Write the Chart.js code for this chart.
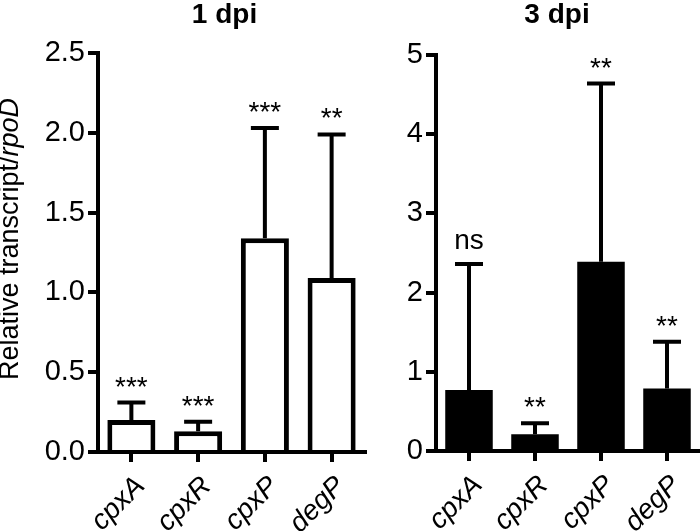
<!DOCTYPE html>
<html>
<head>
<meta charset="utf-8">
<script src="https://cdn.jsdelivr.net/npm/chart.js@4.4.1/dist/chart.umd.min.js"></script>
<style>
  html, body { margin: 0; padding: 0; background: #fff; }
  #wrap { position: relative; width: 700px; height: 531px; overflow: hidden; }
  canvas { position: absolute; top: 0; }
</style>
</head>
<body>
<div id="wrap">
  <canvas id="chart1dpi" width="370" height="531" style="left:0"></canvas>
  <canvas id="chart3dpi" width="330" height="531" style="left:370px"></canvas>
</div>
<script>
var genes = ['cpxA', 'cpxR', 'cpxP', 'degP'];

var mean1dpi = [0.20, 0.13, 1.34, 1.09];
var sd1dpi = [0.11, 0.06, 0.69, 0.90];
var sig1dpi = ['***', '***', '***', '**'];

var mean3dpi = [0.77, 0.21, 2.39, 0.79];
var sd3dpi = [1.59, 0.14, 2.25, 0.59];
var sig3dpi = ['ns', '**', '**', '**'];

var FONT = "'Liberation Sans', Arial, Helvetica, sans-serif";

// error bars (upper only) + significance labels
var errorBarPlugin = {
    id: 'errorBars',
    afterDatasetsDraw: function(chart, args, opts) {
        var ctx = chart.ctx;
        var meta = chart.getDatasetMeta(0);
        var yScale = chart.scales.y;
        ctx.save();
        ctx.strokeStyle = '#000';
        ctx.fillStyle = '#000';
        ctx.lineWidth = 4;
        meta.data.forEach(function(bar, i) {
            var mean = opts.means[i];
            var top = yScale.getPixelForValue(mean + opts.sd[i]);
            var barTop = yScale.getPixelForValue(mean);
            ctx.beginPath();
            ctx.moveTo(bar.x, barTop);
            ctx.lineTo(bar.x, top);
            ctx.moveTo(bar.x - 14, top);
            ctx.lineTo(bar.x + 14, top);
            ctx.stroke();
            var s = opts.labels[i];
            ctx.font = '28px ' + FONT;
            ctx.textAlign = 'center';
            ctx.textBaseline = 'alphabetic';
            var off = /^\*+$/.test(s) ? 7 : 15;
            ctx.fillText(s, bar.x, top - off);
        });
        ctx.restore();
    }
};

// panel title
var panelTitlePlugin = {
    id: 'panelTitle',
    afterDraw: function(chart, args, opts) {
        var ctx = chart.ctx;
        ctx.save();
        ctx.font = 'bold 28px ' + FONT;
        ctx.fillStyle = '#000';
        ctx.textAlign = 'center';
        ctx.textBaseline = 'alphabetic';
        var ca = chart.chartArea;
        ctx.fillText(opts.text, (ca.left + ca.right) / 2 + opts.dx, 23);
        ctx.restore();
    }
};

// y axis title with italic gene name
var yTitlePlugin = {
    id: 'yTitle',
    afterDraw: function(chart, args, opts) {
        if (!opts.show) return;
        var ctx = chart.ctx;
        var plain = 'Relative transcript/';
        var ital = 'rpoD';
        ctx.save();
        ctx.fillStyle = '#000';
        ctx.textBaseline = 'alphabetic';
        ctx.textAlign = 'left';
        ctx.font = '27px ' + FONT;
        var w1 = ctx.measureText(plain).width;
        ctx.font = 'italic 27px ' + FONT;
        var w2 = ctx.measureText(ital).width;
        var total = w1 + w2;
        ctx.translate(18, 239);
        ctx.rotate(-Math.PI / 2);
        ctx.font = '27px ' + FONT;
        ctx.fillText(plain, -total / 2, 0);
        ctx.font = 'italic 27px ' + FONT;
        ctx.fillText(ital, -total / 2 + w1, 0);
        ctx.restore();
    }
};

function makeChart(id, means, sd, sig, fill, border, yMax, step, yWidth, padTop, padRight, xHeight, title, titleDx, showYTitle) {
    return new Chart(document.getElementById(id), {
        type: 'bar',
        data: {
            labels: genes,
            datasets: [{
                data: means,
                backgroundColor: fill,
                borderColor: '#000',
                borderWidth: border,
                borderSkipped: 'bottom',
                barPercentage: 0.72,
                categoryPercentage: 1.0
            }]
        },
        options: {
            responsive: false,
            animation: false,
            events: [],
            layout: { padding: { top: padTop, right: padRight, left: 0, bottom: 0 } },
            plugins: {
                legend: { display: false },
                tooltip: { enabled: false },
                errorBars: { means: means, sd: sd, labels: sig },
                panelTitle: { text: title, dx: titleDx },
                yTitle: { show: showYTitle }
            },
            scales: {
                x: {
                    afterFit: function(scale) { scale.height = xHeight; },
                    grid: { drawOnChartArea: false, drawTicks: true, tickLength: 10, lineWidth: 4, color: '#000', offset: false },
                    border: { display: true, width: 4, color: '#000' },
                    ticks: {
                        color: '#000',
                        minRotation: 45,
                        maxRotation: 45,
                        padding: 8,
                        labelOffset: 9,
                        font: { family: FONT, size: 28, style: 'italic' }
                    }
                },
                y: {
                    min: 0,
                    max: yMax,
                    afterFit: function(scale) { scale.width = yWidth; },
                    grid: { drawOnChartArea: false, drawTicks: true, tickLength: 10, lineWidth: 4, color: '#000' },
                    border: { display: true, width: 4, color: '#000' },
                    ticks: {
                        stepSize: step,
                        color: '#000',
                        padding: 3,
                        font: { family: FONT, size: 29 },
                        callback: function(v) { return step < 1 ? v.toFixed(1) : String(v); }
                    }
                }
            }
        },
        plugins: [errorBarPlugin, panelTitlePlugin, yTitlePlugin]
    });
}

var chart1dpi = makeChart('chart1dpi', mean1dpi, sd1dpi, sig1dpi, '#fff', 5, 2.5, 0.5, 98, 53, 5, 79, '1 dpi', -7, true);
var chart3dpi = makeChart('chart3dpi', mean3dpi, sd3dpi, sig3dpi, '#000', 0, 5, 1, 66, 55, 0, 80, '3 dpi', -11, false);
</script>
</body>
</html>
